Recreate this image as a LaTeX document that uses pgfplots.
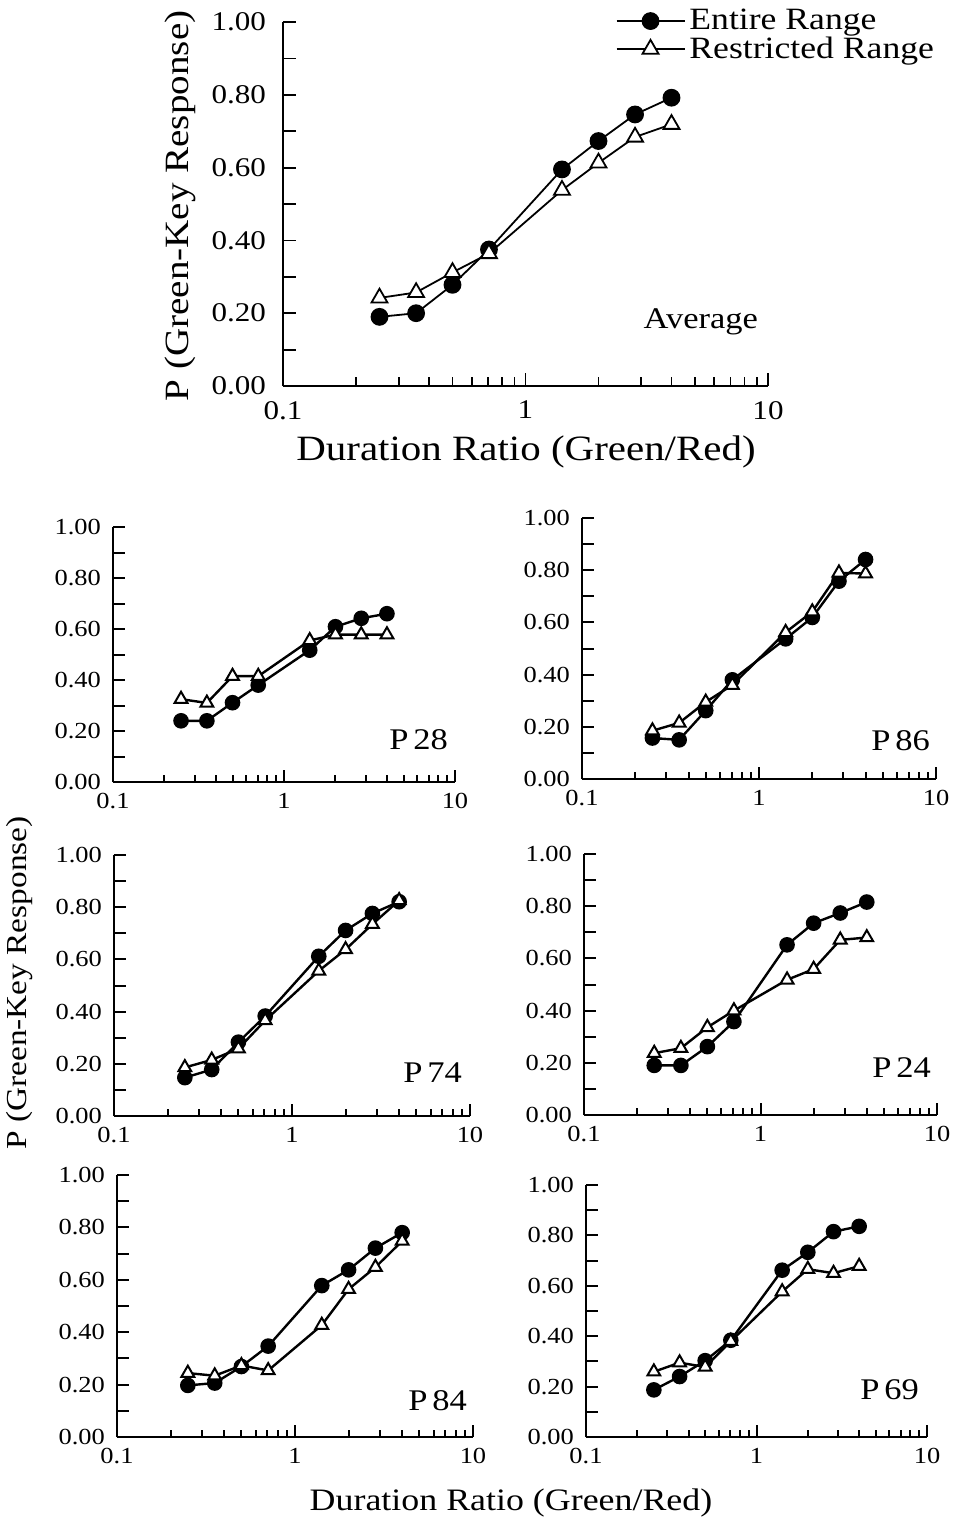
\documentclass[border=0pt]{standalone}
\usepackage{pgfplots}
\pgfplotsset{compat=1.18}
\usepackage{fontspec}
\setmainfont{Liberation Serif}[FakeStretch=1.15]
\pgfplotstableread{
x ent res
0.25 0.190 0.242
0.354 0.200 0.257
0.5 0.278 0.312
0.707 0.375 0.364
1.414 0.595 0.538
2 0.673 0.613
2.83 0.746 0.684
4 0.792 0.719
}\avg
\pgfplotstableread{
x ent res
0.25 0.240 0.325
0.354 0.240 0.310
0.5 0.311 0.415
0.707 0.380 0.415
1.414 0.517 0.555
2 0.609 0.578
2.83 0.642 0.578
4 0.660 0.578
}\pA
\pgfplotstableread{
x ent res
0.25 0.157 0.185
0.354 0.150 0.215
0.5 0.262 0.295
0.707 0.380 0.360
1.414 0.537 0.562
2 0.619 0.641
2.83 0.758 0.790
4 0.841 0.787
}\pB
\pgfplotstableread{
x ent res
0.25 0.147 0.186
0.354 0.178 0.215
0.5 0.283 0.258
0.707 0.383 0.366
1.414 0.612 0.556
2 0.711 0.638
2.83 0.776 0.735
4 0.821 0.826
}\pC
\pgfplotstableread{
x ent res
0.25 0.190 0.237
0.354 0.190 0.256
0.5 0.262 0.336
0.707 0.358 0.400
1.414 0.652 0.518
2 0.735 0.559
2.83 0.774 0.671
4 0.816 0.680
}\pD
\pgfplotstableread{
x ent res
0.25 0.197 0.244
0.354 0.206 0.234
0.5 0.269 0.273
0.707 0.347 0.254
1.414 0.578 0.427
2 0.638 0.564
2.83 0.721 0.648
4 0.780 0.748
}\pE
\pgfplotstableread{
x ent res
0.25 0.187 0.259
0.354 0.240 0.295
0.5 0.303 0.278
0.707 0.384 0.380
1.414 0.662 0.577
2 0.733 0.666
2.83 0.815 0.650
4 0.836 0.678
}\pF
\tikzset{
  entS/.style={black, line width=1.2pt, mark=*, mark size=3.3pt, mark options={fill=black, solid}},
  resS/.style={black, line width=1.2pt, mark=triangle*, mark size=3.7pt, mark options={fill=white, solid, line width=1pt}},
}
\pgfplotsset{
  legend image code/.code={\draw[mark repeat=2,mark phase=2,#1] plot coordinates {(0pt,0pt)(17pt,0pt)(34pt,0pt)};},
}
\newcommand{\panel}[4]{%
\begin{axis}[at={(#1)}, anchor=south west, width=#2, height=#3,
    scale only axis, xmode=log, xmin=0.1, xmax=10, ymin=0, ymax=1,
    axis x line*=bottom, axis y line*=left,
    axis line style={black, line width=1.1pt},
    tick align=inside,
    xtick={0.1,1,10}, xticklabels={0.1,1,10},
    minor xtick={0.2,0.3,0.4,0.5,0.6,0.7,0.8,0.9,2,3,4,5,6,7,8,9},
    ytick={0,0.1,0.2,0.3,0.4,0.5,0.6,0.7,0.8,0.9,1},
    yticklabels={0.00,,0.20,,0.40,,0.60,,0.80,,1.00},
    tick style={black, line width=1pt},
    major tick length=6pt, minor tick length=3.5pt,
    ticklabel style={font=\fontsize{11.5}{13}\selectfont},
    yticklabel style={xshift=-2.5pt},
    xticklabel style={yshift=-2pt},
    clip=false]
\addplot[entS] table[x=x,y=ent] {#4};
\addplot[resS] table[x=x,y=res] {#4};
\end{axis}
}
\begin{document}
\begin{tikzpicture}[x=0.5pt, y=-0.5pt]
\useasboundingbox (0,0) rectangle (955,1521);
\coordinate (T) at (283,386);
\coordinate (A) at (113,782);
\coordinate (B) at (582,779);
\coordinate (C) at (114,1116);
\coordinate (D) at (584,1115);
\coordinate (E) at (117,1437);
\coordinate (F) at (586,1437);
% top: average
\begin{axis}[at={(T)}, anchor=south west, width=242.5pt, height=182pt,
  scale only axis, xmode=log, xmin=0.1, xmax=10, ymin=0, ymax=1,
  axis x line*=bottom, axis y line*=left,
  axis line style={black, line width=1pt},
  tick align=inside,
  xtick={0.1,1,10}, xticklabels={0.1,1,10},
  minor xtick={0.2,0.3,0.4,0.5,0.6,0.7,0.8,0.9,2,3,4,5,6,7,8,9},
  ytick={0,0.1,0.2,0.3,0.4,0.5,0.6,0.7,0.8,0.9,1},
  yticklabels={0.00,,0.20,,0.40,,0.60,,0.80,,1.00},
  tick style={black, line width=0.9pt},
  major tick length=6.5pt, minor tick length=4.5pt,
  ticklabel style={font=\fontsize{13.5}{15}\selectfont},
  yticklabel style={xshift=-5pt},
  xticklabel style={yshift=-4pt},
  clip=false,
  legend style={draw=none, fill=none, at={(axis description cs:0.685,1.047)}, anchor=north west,
    font=\fontsize{15.5}{17}\selectfont, legend cell align=left, row sep=-2pt, inner sep=0pt},
]
\addplot[black, line width=0.9pt, mark=*, mark size=4pt, mark options={fill=black, solid}] table[x=x,y=ent] {\avg};
\addlegendentry{Entire Range}
\addplot[black, line width=0.9pt, mark=triangle*, mark size=4.6pt, mark options={fill=white, solid, line width=0.9pt}] table[x=x,y=res] {\avg};
\addlegendentry{Restricted Range}
\end{axis}
\node[anchor=east, font=\fontsize{15}{17}\selectfont] at (765,322) {Average};
\node[rotate=90, font=\fontsize{17}{19}\selectfont] at (180,206) {P (Green-Key Response)};
\node[font=\fontsize{17.8}{19}\selectfont] at (526,452) {Duration Ratio (Green/Red)};
% panels
\panel{A}{171pt}{127.5pt}{\pA}
\panel{B}{177pt}{130.5pt}{\pB}
\panel{C}{178pt}{130.5pt}{\pC}
\panel{D}{176.5pt}{130.5pt}{\pD}
\panel{E}{178pt}{131pt}{\pE}
\panel{F}{170.5pt}{126pt}{\pF}
\begin{scope}[every node/.style={anchor=east, font=\fontsize{15}{17}\selectfont}]
\node at (455,740) {P\,28};
\node at (937,741) {P\,86};
\node at (469,1073) {P\,74};
\node at (938,1068) {P\,24};
\node at (474,1401) {P\,84};
\node at (926,1390) {P\,69};
\end{scope}
\node[rotate=90, font=\fontsize{14.5}{16}\selectfont] at (20,983) {P (Green-Key Response)};
\node[font=\fontsize{15.6}{17}\selectfont] at (511,1503) {Duration Ratio (Green/Red)};
\end{tikzpicture}
\end{document}
